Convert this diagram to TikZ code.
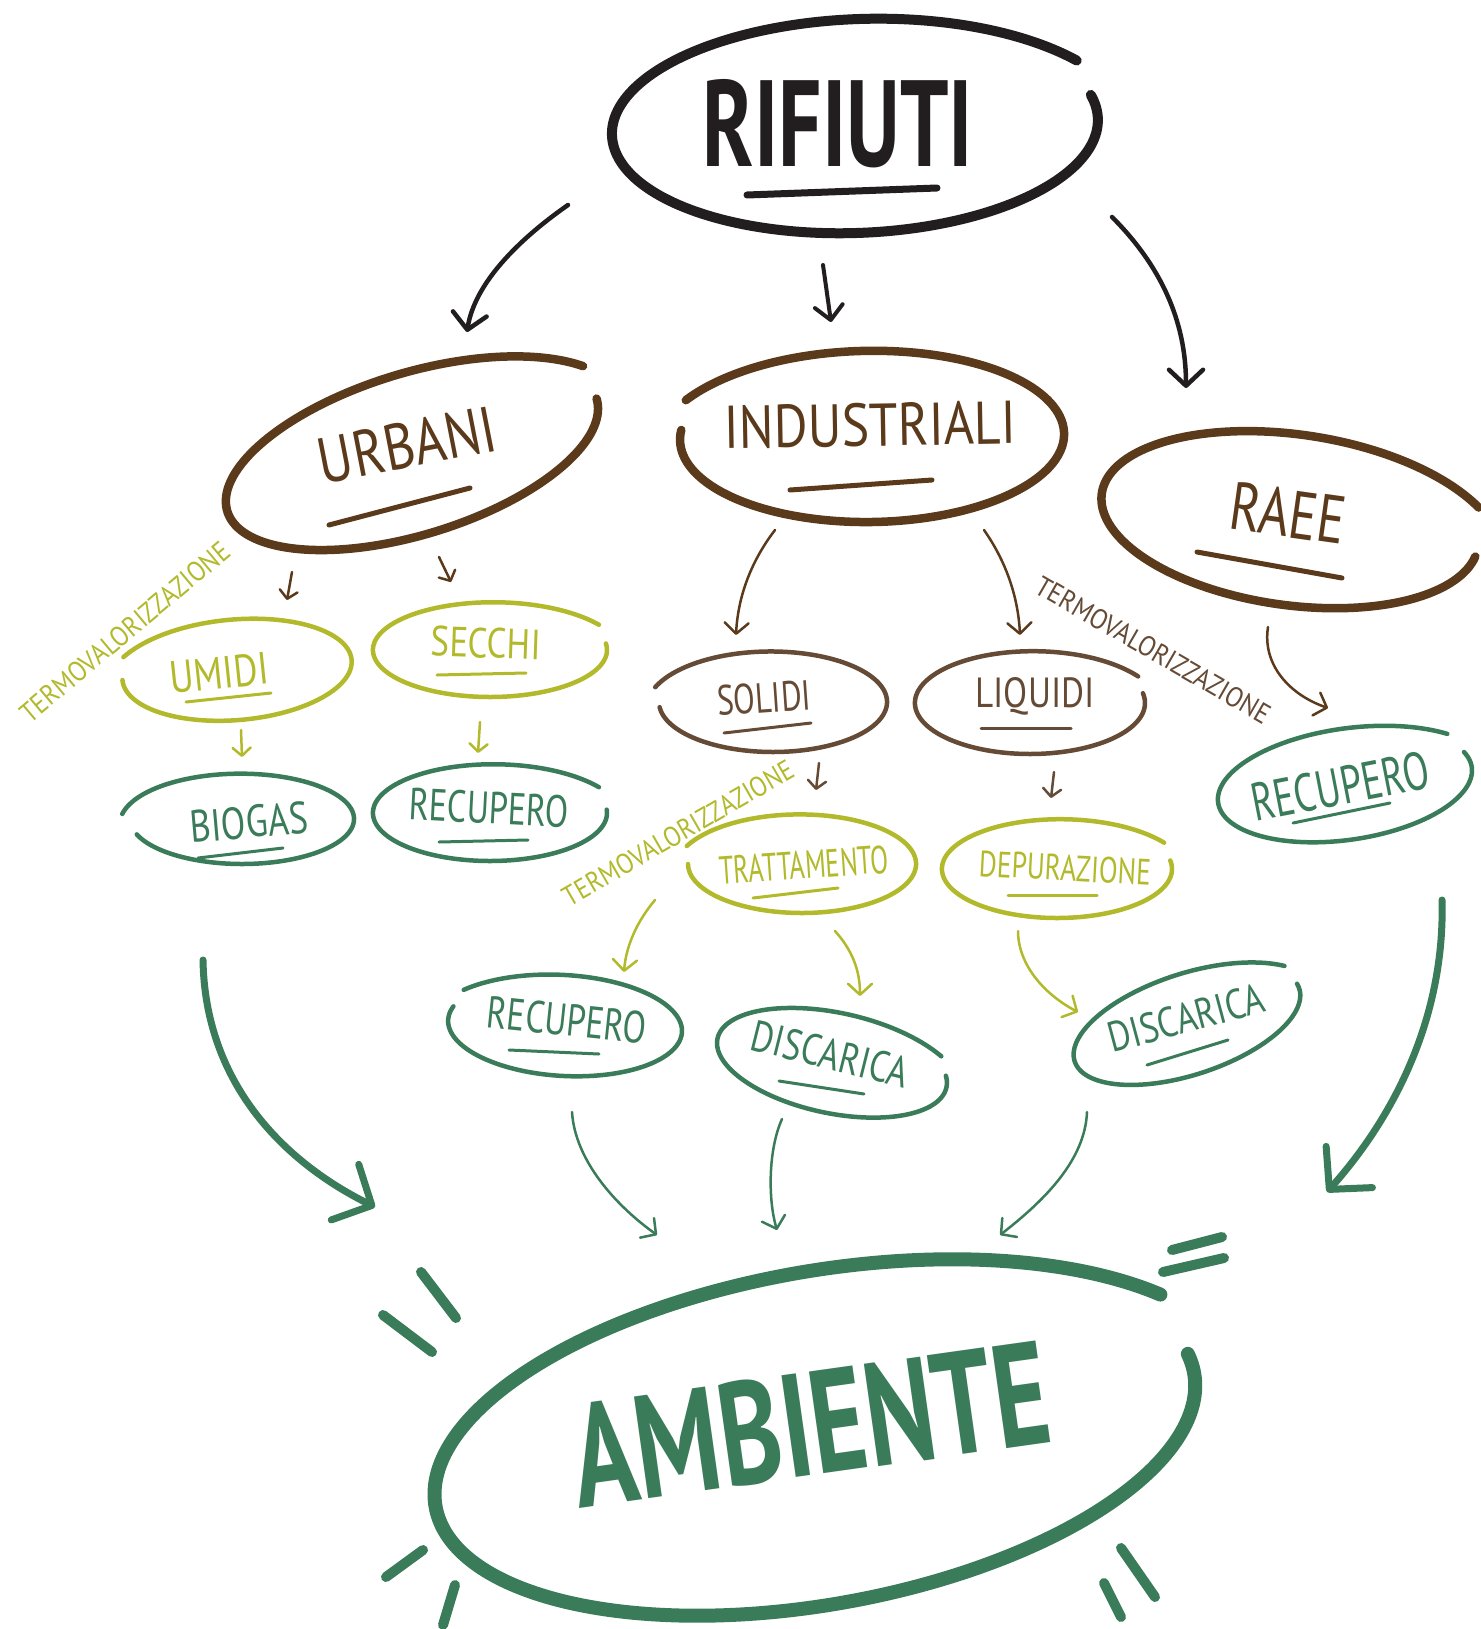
\documentclass[tikz,border=0pt]{standalone}
\usepackage{fontspec}
\setmainfont{PT Sans}
\usepackage{graphicx}
\usetikzlibrary{arrows.meta}
\definecolor{ink}{HTML}{221E1F}
\definecolor{brownD}{HTML}{5A3A1B}
\definecolor{brownL}{HTML}{654A35}
\definecolor{ygreen}{HTML}{B2BA2C}
\definecolor{green}{HTML}{3A7B59}
\newcommand\txt[3]{\resizebox{#1pt}{#2pt}{#3}}
% open hand-drawn ellipse: style, cx, cy, rx, ry, rotation, start, end, tail at end (1) or start (0)
\newcommand\oell[9]{\draw[#1, rotate around={#6:(#2,#3)}] plot[domain=#7:#8, samples=140, smooth]
  ({#2+#4*cos(\x)*(1+0.075*(#9*((\x-#7)/(#8-#7))^8+(1-#9)*(1-(\x-#7)/(#8-#7))^8))},
   {#3+#5*sin(\x)*(1+0.075*(#9*((\x-#7)/(#8-#7))^8+(1-#9)*(1-(\x-#7)/(#8-#7))^8))});}
\tikzset{
  lab/.style={inner sep=0pt, anchor=center},
  rimK/.style={ink, line width=10pt, line cap=round},
  rimB/.style={brownD, line width=8.5pt, line cap=round},
  rimL/.style={brownL, line width=4.5pt, line cap=round},
  rimY/.style={ygreen, line width=4.5pt, line cap=round},
  rimG/.style={green, line width=4.5pt, line cap=round},
  rimA/.style={green, line width=14pt, line cap=round},
  uline/.style={line width=#1, line cap=round},
  arrK/.style={ink, line width=4.5pt, line cap=round, -{Straight Barb[round, length=16pt, width=34pt]}},
  arrKs/.style={ink, line width=4pt, line cap=round, -{Straight Barb[round, length=14pt, width=28pt]}},
  arrS/.style={line width=2.5pt, line cap=round, -{Straight Barb[round, length=8pt, width=18pt]}},
  arrM/.style={line width=2.5pt, line cap=round, -{Straight Barb[round, length=11pt, width=24pt]}},
  arrBig/.style={green, line width=7pt, line cap=round, -{Straight Barb[round, length=30pt, width=62pt]}},
  spark/.style={green, line width=10pt, line cap=round},
}
\begin{document}
\begin{tikzpicture}[x=1pt,y=-1pt]
\fill[white] (0,0) rectangle (1480,1629);
\useasboundingbox (0,0) rectangle (1480,1629);

% ---------- RIFIUTI ----------
\oell{rimK}{855}{127}{243}{106}{2}{-13}{329}{1}
\node[lab, text=ink] (rif) at (838,124) {\txt{270}{87}{\bfseries RIFIUTI}};
\draw[ink, uline=7pt] (747,195) -- (937,188);

% ---------- level 1 ----------
\oell{rimB}{412}{455}{193}{80}{17}{0}{336}{1}
\node[lab, text=brownD, rotate=11] (urb) at (407,445) {\txt{180}{46}{URBANI}};
\draw[brownD, uline=5pt] (329,525) -- (470,488);

\oell{rimB}{872}{437}{192}{85}{1}{206}{547}{0}
\node[lab, text=brownD, rotate=1] (ind) at (870,425) {\txt{292}{43}{INDUSTRIALI}};
\draw[brownD, uline=5pt] (790,490) -- (932,480);

\oell{rimB}{1290}{520}{190}{85}{-8}{7}{335}{1}
\node[lab, text=brownD, rotate=-8] (raee) at (1288,513) {\txt{116}{48}{RAEE}};
\draw[brownD, uline=5pt] (1197,552) -- (1342,578);

% ---------- level 2 ----------
\oell{rimY}{237}{670}{115}{50}{5}{205}{540}{0}
\node[lab, text=ygreen, rotate=6] (umi) at (219,673) {\txt{99}{32}{UMIDI}};
\draw[ygreen, uline=3pt] (186,702) -- (271,693);

\oell{rimY}{490}{650}{117}{47}{0}{-8}{330}{1}
\node[lab, text=ygreen, rotate=-2] (sec) at (486,643) {\txt{110}{30}{SECCHI}};
\draw[ygreen, uline=3pt] (437,675) -- (526,673);

\oell{rimL}{773}{702}{114}{50}{0}{196}{534}{0}
\node[lab, text=brownL, rotate=4] (sol) at (764,698) {\txt{94}{30}{SOLIDI}};
\draw[brownL, uline=3pt] (724,733) -- (811,723);

\oell{rimL}{1030}{703}{115}{51}{0}{-11}{331}{1}
\node[lab, text=brownL] (liq) at (1035,696) {\txt{119}{30}{LIQUIDI}};
\draw[brownL, uline=3pt] (981,728) -- (1071,728);

% ---------- level 3 ----------
\oell{rimG}{242}{819}{112}{45}{0}{-174}{160}{0}
\node[lab, text=green, rotate=5] (bio) at (249,822) {\txt{118}{32}{BIOGAS}};
\draw[green, uline=3pt] (198,858) -- (283,848);

\oell{rimG}{490}{813}{117}{48}{0}{-4}{330}{1}
\node[lab, text=green, rotate=-3] (recA) at (489,808) {\txt{160}{32}{RECUPERO}};
\draw[green, uline=3pt] (439,842) -- (528,840);

\oell{rimG}{1345}{785}{128}{55}{8}{-17}{322}{1}
\node[lab, text=green, rotate=11] (recR) at (1340,786) {\txt{180}{38}{RECUPERO}};
\draw[green, uline=3pt] (1293,823) -- (1390,803);

\oell{rimY}{802}{864}{114}{49}{0}{200}{540}{0}
\node[lab, text=ygreen, rotate=4] (tra) at (804,865) {\txt{170}{28}{TRATTAMENTO}};
\draw[ygreen, uline=3pt] (753,898) -- (838,888);

\oell{rimY}{1057}{869}{115}{49}{0}{-10}{330}{1}
\node[lab, text=ygreen, rotate=-3] (dep) at (1065,868) {\txt{172}{26}{DEPURAZIONE}};
\draw[ygreen, uline=3pt] (1008,895) -- (1097,895);

% ---------- level 4 ----------
\oell{rimG}{565}{1026}{117}{50}{-3}{215}{556}{0}
\node[lab, text=green, rotate=-6] (recB) at (567,1020) {\txt{160}{32}{RECUPERO}};
\draw[green, uline=3pt] (509,1050) -- (599,1054);

\oell{rimG}{832}{1063}{117}{50}{-12}{-13}{327}{1}
\node[lab, text=green, rotate=-14] (disA) at (830,1054) {\txt{160}{31}{DISCARICA}};
\draw[green, uline=3pt] (779,1081) -- (864,1094);

\oell{rimG}{1187}{1025}{118}{50}{18}{-6}{331}{1}
\node[lab, text=green, rotate=15] (disB) at (1186,1018) {\txt{160}{30}{DISCARICA}};
\draw[green, uline=3pt] (1147,1065) -- (1228,1040);

% ---------- AMBIENTE ----------
\oell{rimA}{815}{1440}{385}{165}{10}{-7}{332}{1}
\node[lab, text=green, rotate=8] (amb) at (810,1424) {\txt{480}{104}{\bfseries AMBIENTE}};
\draw[spark] (421,1272) -- (456,1318);
\draw[spark] (383,1315) -- (432,1352);
\draw[spark] (1172,1250) -- (1222,1237);
\draw[spark] (1163,1272) -- (1224,1258);
\draw[spark] (423,1550) -- (386,1577);
\draw[spark] (455,1585) -- (443,1625);
\draw[spark] (1121,1548) -- (1155,1597);
\draw[spark] (1104,1583) -- (1121,1617);

% ---------- TERMOVALORIZZAZIONE labels ----------
\node[lab, text=ygreen, rotate=40] (tvA) at (125,632) {\txt{264}{20}{TERMOVALORIZZAZIONE}};
\node[lab, text=brownL, rotate=-30] (tvB) at (1153,650) {\txt{266}{20}{TERMOVALORIZZAZIONE}};
\node[lab, text=ygreen, rotate=30] (tvC) at (678,833) {\txt{262}{20}{TERMOVALORIZZAZIONE}};

% ---------- connector end points ----------
\coordinate (rifL) at (568,205);  \coordinate (urbT) at (467,332);
\coordinate (rifM) at (823,265);  \coordinate (indT) at (831,322);
\coordinate (rifR) at (1112,217); \coordinate (raeT) at (1186,388);
\coordinate (urbA) at (292,572);  \coordinate (umiT) at (287,600);
\coordinate (urbB) at (439,557);  \coordinate (secT) at (451,582);
\coordinate (indA) at (775,530);  \coordinate (solT) at (736,635);
\coordinate (indB) at (984,530);  \coordinate (liqT) at (1020,635);
\coordinate (raeB) at (1268,627); \coordinate (recRT) at (1328,708);
\coordinate (umiB) at (241,730);  \coordinate (bioT) at (242,757);
\coordinate (secB) at (480,722);  \coordinate (recAT) at (478,753);
\coordinate (solB) at (819,763);  \coordinate (traT) at (816,790);
\coordinate (liqB) at (1054,772); \coordinate (depT) at (1051,798);
\coordinate (tvCB) at (655,900);  \coordinate (recBT) at (624,972);
\coordinate (traB) at (835,931);  \coordinate (disAT) at (860,996);
\coordinate (depB) at (1018,931); \coordinate (disBT) at (1078,1012);
\coordinate (recBB) at (572,1112); \coordinate (ambA) at (657,1235);
\coordinate (disAB) at (782,1119); \coordinate (ambB) at (777,1230);
\coordinate (disBB) at (1087,1112); \coordinate (ambC) at (1000,1235);
\coordinate (bioB) at (203,960);  \coordinate (ambL) at (375,1207);
\coordinate (recRB) at (1442,900); \coordinate (ambR) at (1327,1192);

% ---------- connectors ----------
\draw[arrK] (rifL) .. controls (525,235) and (475,280) .. (urbT);
\draw[arrKs] (rifM) -- (indT);
\draw[arrK] (rifR) .. controls (1160,265) and (1186,320) .. (raeT);

\draw[arrS, brownD] (urbA) -- (umiT);
\draw[arrS, brownD] (urbB) -- (secT);
\draw[arrM, brownD] (indA) .. controls (752,560) and (738,595) .. (solT);
\draw[arrM, brownD] (indB) .. controls (1005,560) and (1018,595) .. (liqT);
\draw[arrM, brownD] (raeB) .. controls (1262,665) and (1290,695) .. (recRT);

\draw[arrS, ygreen] (umiB) -- (bioT);
\draw[arrS, ygreen] (secB) -- (recAT);
\draw[arrS, brownL] (solB) -- (traT);
\draw[arrS, brownL] (liqB) -- (depT);

\draw[arrM, ygreen] (tvCB) .. controls (638,920) and (626,945) .. (recBT);
\draw[arrM, ygreen] (traB) .. controls (852,950) and (860,970) .. (disAT);
\draw[arrM, ygreen] (depB) .. controls (1018,965) and (1045,995) .. (disBT);

\draw[arrM, green] (recBB) .. controls (575,1160) and (615,1205) .. (ambA);
\draw[arrM, green] (disAB) .. controls (768,1150) and (768,1200) .. (ambB);
\draw[arrM, green] (disBB) .. controls (1085,1160) and (1045,1200) .. (ambC);

\draw[arrBig] (bioB) .. controls (205,1080) and (280,1160) .. (ambL);
\draw[arrBig] (recRB) .. controls (1445,1010) and (1400,1110) .. (ambR);
\end{tikzpicture}
\end{document}
